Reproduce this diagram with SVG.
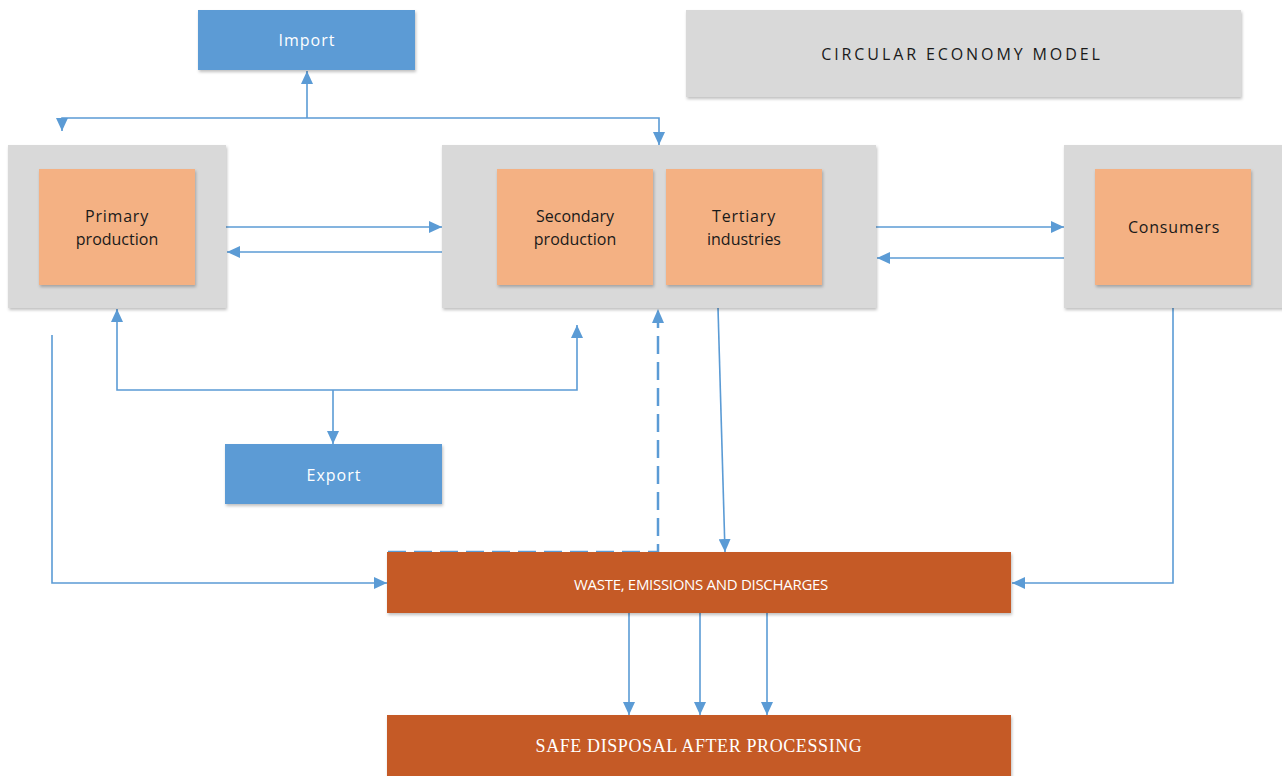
<svg xmlns="http://www.w3.org/2000/svg" width="1282" height="776" viewBox="0 0 1282 776">
<style>
.grey{fill:#d9d9d9}
.org{fill:#f4b183}
.blue{fill:#5b9bd5}
.rust{fill:#c55a28}
.lbl{font-family:"Open Sans","Liberation Sans",sans-serif;font-size:16px;fill:#1a1a1a;text-anchor:middle}
.wl{font-family:"Open Sans","Liberation Sans",sans-serif;font-size:16px;fill:#ffffff;text-anchor:middle;letter-spacing:1px}
.ln{fill:none;stroke:#5b9bd5;stroke-width:1.6}
.dash{fill:none;stroke:#5b9bd5;stroke-width:2.5;stroke-dasharray:18 8}
</style>
<defs>
<filter id="sh" x="-5%" y="-5%" width="115%" height="120%">
<feDropShadow dx="1" dy="2" stdDeviation="1.5" flood-color="#000" flood-opacity="0.25"/>
</filter>
<marker id="ah" markerUnits="userSpaceOnUse" markerWidth="14" markerHeight="12" refX="13" refY="6" orient="auto">
<path d="M0,0 L13,6 L0,12 Z" fill="#5b9bd5"/>
</marker>
</defs>
<rect width="1282" height="776" fill="#ffffff"/>

<g id="connectors">
<path class="ln" d="M307,118 V71" marker-end="url(#ah)"/>
<path class="ln" d="M307,118 H62 V131" marker-end="url(#ah)"/>
<path class="ln" d="M307,118 H659 V145" marker-end="url(#ah)"/>
<path class="ln" d="M226,227 H442" marker-end="url(#ah)"/>
<path class="ln" d="M442,252 H227" marker-end="url(#ah)"/>
<path class="ln" d="M876,227 H1064" marker-end="url(#ah)"/>
<path class="ln" d="M1064,258 H877" marker-end="url(#ah)"/>
<path class="ln" d="M333,390 H117 V309" marker-end="url(#ah)"/>
<path class="ln" d="M333,390 H577 V325" marker-end="url(#ah)"/>
<path class="ln" d="M333,390 V444" marker-end="url(#ah)"/>
<path class="ln" d="M52,335 V583 H387" marker-end="url(#ah)"/>
<path class="dash" d="M388,552 H658 V322"/>
<path d="M658,309 L664,323 L652,323 Z" fill="#5b9bd5"/>
<path class="ln" d="M718,308 L725,552" marker-end="url(#ah)"/>
<path class="ln" d="M1173,308 V583 H1012" marker-end="url(#ah)"/>
<path class="ln" d="M629,613 V715" marker-end="url(#ah)"/>
<path class="ln" d="M700,613 V715" marker-end="url(#ah)"/>
<path class="ln" d="M767,613 V715" marker-end="url(#ah)"/>
</g>

<g id="import">
<rect class="blue" x="198" y="10" width="217" height="60" filter="url(#sh)"/>
<text class="wl" x="307" y="46">Import</text>
</g>

<g id="title">
<rect class="grey" x="686" y="10" width="555" height="87" filter="url(#sh)"/>
<text x="962" y="60" font-family="'Open Sans','Liberation Sans',sans-serif" font-size="16" fill="#1a1a1a" text-anchor="middle" letter-spacing="2.9">CIRCULAR ECONOMY MODEL</text>
</g>

<g id="primary">
<rect class="grey" x="8" y="145" width="218" height="163" filter="url(#sh)"/>
<rect class="org" x="39" y="169" width="156" height="116" filter="url(#sh)"/>
<text class="lbl" x="117" y="222" letter-spacing="0.8">Primary</text>
<text class="lbl" x="117" y="245">production</text>
</g>

<g id="middle">
<rect class="grey" x="442" y="145" width="434" height="163" filter="url(#sh)"/>
</g>
<g id="secondary">
<rect class="org" x="497" y="169" width="156" height="116" filter="url(#sh)"/>
<text class="lbl" x="575" y="222">Secondary</text>
<text class="lbl" x="575" y="245">production</text>
</g>
<g id="tertiary">
<rect class="org" x="666" y="169" width="156" height="116" filter="url(#sh)"/>
<text class="lbl" x="744" y="222" letter-spacing="0.8">Tertiary</text>
<text class="lbl" x="744" y="245">industries</text>
</g>

<g id="consumers">
<rect class="grey" x="1064" y="145" width="220" height="163" filter="url(#sh)"/>
<rect class="org" x="1095" y="169" width="156" height="116" filter="url(#sh)"/>
<text class="lbl" x="1174" y="233" letter-spacing="0.8">Consumers</text>
</g>

<g id="export">
<rect class="blue" x="225" y="444" width="217" height="60" filter="url(#sh)"/>
<text class="wl" x="334" y="481">Export</text>
</g>

<g id="waste">
<rect class="rust" x="387" y="552" width="624" height="61" filter="url(#sh)"/>
<text x="701" y="590" font-family="'Open Sans','Liberation Sans',sans-serif" font-size="15" fill="#ffffff" text-anchor="middle" letter-spacing="-0.3">WASTE, EMISSIONS AND DISCHARGES</text>
</g>

<g id="disposal">
<rect class="rust" x="387" y="715" width="624" height="65" filter="url(#sh)"/>
<text x="699" y="752" font-family="'Liberation Serif',serif" font-size="18" fill="#ffffff" text-anchor="middle" letter-spacing="0.6">SAFE DISPOSAL AFTER PROCESSING</text>
</g>
</svg>
